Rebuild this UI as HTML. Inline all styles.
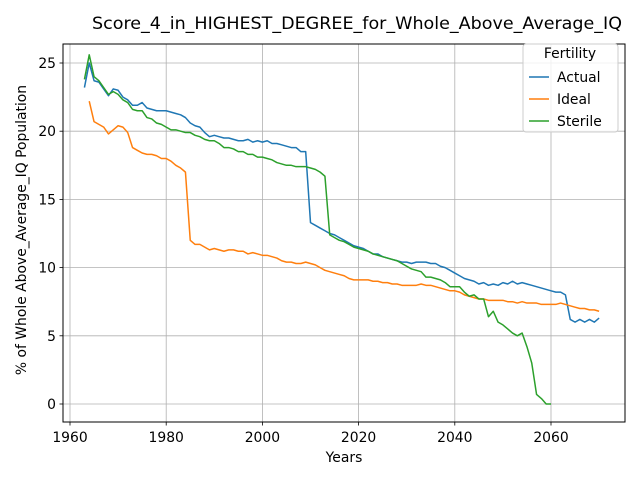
<!DOCTYPE html>
<html><head><meta charset="utf-8"><style>
body{margin:0;background:#fff;font-family:"DejaVu Sans","Liberation Sans",sans-serif}
svg text{font-family:"DejaVu Sans","Liberation Sans",sans-serif}
</style></head><body>
<svg id="chart" width="640" height="480" xmlns="http://www.w3.org/2000/svg">
<rect width="640" height="480" fill="#fff"/>
<g id="grid"></g>
<g id="series"></g>
<rect x="63" y="44" width="562" height="378" fill="none" stroke="#000" stroke-width="1"/>
<g id="ticks"></g>
<text x="357" y="29" font-size="16.7" text-anchor="middle" textLength="530" lengthAdjust="spacingAndGlyphs">Score_4_in_HIGHEST_DEGREE_for_Whole_Above_Average_IQ</text>
<text x="344" y="462" font-size="13.9" text-anchor="middle">Years</text>
<text transform="translate(26,230) rotate(-90)" font-size="13.9" text-anchor="middle">% of Whole Above_Average_IQ Population</text>
<g>
<rect x="523" y="44" width="95" height="88" rx="3" fill="#fff" fill-opacity="0.8" stroke="#ccc"/>
<text x="570" y="58" font-size="13.9" text-anchor="middle">Fertility</text>
<line x1="529" y1="77" x2="549" y2="77" stroke="#1f77b4" stroke-width="1.5"/>
<text x="557" y="82" font-size="13.9">Actual</text>
<line x1="529" y1="99" x2="549" y2="99" stroke="#ff7f0e" stroke-width="1.5"/>
<text x="557" y="104" font-size="13.9">Ideal</text>
<line x1="529" y1="121" x2="549" y2="121" stroke="#2ca02c" stroke-width="1.5"/>
<text x="557" y="126" font-size="13.9">Sterile</text>
</g>
</svg>
<script>
const xTicks=[1960,1980,2000,2020,2040,2060];
const yTicks=[0,5,10,15,20,25];
const actualStart=1963;
const actual=[23.2,25.0,23.7,23.6,23.1,22.6,23.1,23.0,22.5,22.3,21.9,21.9,22.1,21.7,21.6,21.5,21.5,21.5,21.4,21.3,21.2,21.0,20.6,20.4,20.3,19.9,19.6,19.7,19.6,19.5,19.5,19.4,19.3,19.3,19.4,19.2,19.3,19.2,19.3,19.1,19.1,19.0,18.9,18.8,18.8,18.5,18.5,13.3,13.1,12.9,12.7,12.5,12.4,12.2,12.0,11.8,11.6,11.5,11.4,11.2,11.0,11.0,10.8,10.7,10.6,10.5,10.4,10.4,10.3,10.4,10.4,10.4,10.3,10.3,10.1,10.0,9.8,9.6,9.4,9.2,9.1,9.0,8.8,8.9,8.7,8.8,8.7,8.9,8.8,9.0,8.8,8.9,8.8,8.7,8.6,8.5,8.4,8.3,8.2,8.2,8.0,6.2,6.0,6.2,6.0,6.2,6.0,6.3];
const idealStart=1964;
const ideal=[22.2,20.7,20.5,20.3,19.8,20.1,20.4,20.3,19.9,18.8,18.6,18.4,18.3,18.3,18.2,18.0,18.0,17.8,17.5,17.3,17.0,12.0,11.7,11.7,11.5,11.3,11.4,11.3,11.2,11.3,11.3,11.2,11.2,11.0,11.1,11.0,10.9,10.9,10.8,10.7,10.5,10.4,10.4,10.3,10.3,10.4,10.3,10.2,10.0,9.8,9.7,9.6,9.5,9.4,9.2,9.1,9.1,9.1,9.1,9.0,9.0,8.9,8.9,8.8,8.8,8.7,8.7,8.7,8.7,8.8,8.7,8.7,8.6,8.5,8.4,8.3,8.3,8.2,8.0,7.9,7.8,7.7,7.7,7.6,7.6,7.6,7.6,7.5,7.5,7.4,7.5,7.4,7.4,7.4,7.3,7.3,7.3,7.3,7.4,7.3,7.2,7.1,7.0,7.0,6.9,6.9,6.8];
const sterileStart=1963;
const sterile=[23.8,25.6,24.0,23.7,23.2,22.7,22.9,22.7,22.3,22.1,21.6,21.5,21.5,21.0,20.9,20.6,20.5,20.3,20.1,20.1,20.0,19.9,19.9,19.7,19.6,19.4,19.3,19.3,19.1,18.8,18.8,18.7,18.5,18.5,18.3,18.3,18.1,18.1,18.0,17.9,17.7,17.6,17.5,17.5,17.4,17.4,17.4,17.3,17.2,17.0,16.7,12.4,12.2,12.0,11.9,11.7,11.5,11.4,11.3,11.2,11.0,10.9,10.8,10.7,10.6,10.5,10.3,10.1,9.9,9.8,9.7,9.3,9.3,9.2,9.1,8.9,8.6,8.6,8.6,8.2,7.9,8.0,7.7,7.7,6.4,6.8,6.0,5.8,5.5,5.2,5.0,5.2,4.2,3.0,0.7,0.4,0.0,0.0];
const NS="http://www.w3.org/2000/svg";
const X=yr=>70+(yr-1960)*4.81;
const Y=v=>404-v*13.64;
const grid=document.getElementById('grid'),ticks=document.getElementById('ticks'),ser=document.getElementById('series');
function mk(tag,attrs,parent){const e=document.createElementNS(NS,tag);for(const k in attrs)e.setAttribute(k,attrs[k]);parent.appendChild(e);return e;}
xTicks.forEach(t=>{
 const g=mk('line',{x1:X(t),x2:X(t),y1:44,y2:422,stroke:'#b0b0b0','stroke-width':0.8},grid);
 
 
 mk('line',{x1:X(t),x2:X(t),y1:422,y2:425.5,stroke:'#000','stroke-width':0.8},ticks);
 const tx=mk('text',{x:X(t),y:442,'font-size':13.9,'text-anchor':'middle'},ticks);tx.textContent=t;
 
 
});
yTicks.forEach(t=>{
 const g=mk('line',{x1:63,x2:625,y1:Y(t),y2:Y(t),stroke:'#b0b0b0','stroke-width':0.8},grid);
 
 
 mk('line',{x1:59.5,x2:63,y1:Y(t),y2:Y(t),stroke:'#000','stroke-width':0.8},ticks);
 const tx=mk('text',{x:56,y:Y(t)+5,'font-size':13.9,'text-anchor':'end'},ticks);tx.textContent=t;
 
 
});
function line(data,start,color,name){
 const pts=data.map((v,i)=>X(start+i).toFixed(2)+','+Y(v).toFixed(2)).join(' ');
 const p=mk('polyline',{points:pts,fill:'none',stroke:color,'stroke-width':1.5,'stroke-linejoin':'round'},ser);
 
 
}
line(actual,actualStart,'#1f77b4','actual-line');
line(ideal,idealStart,'#ff7f0e','ideal-line');
line(sterile,sterileStart,'#2ca02c','sterile-line');
</script>
</body></html>
